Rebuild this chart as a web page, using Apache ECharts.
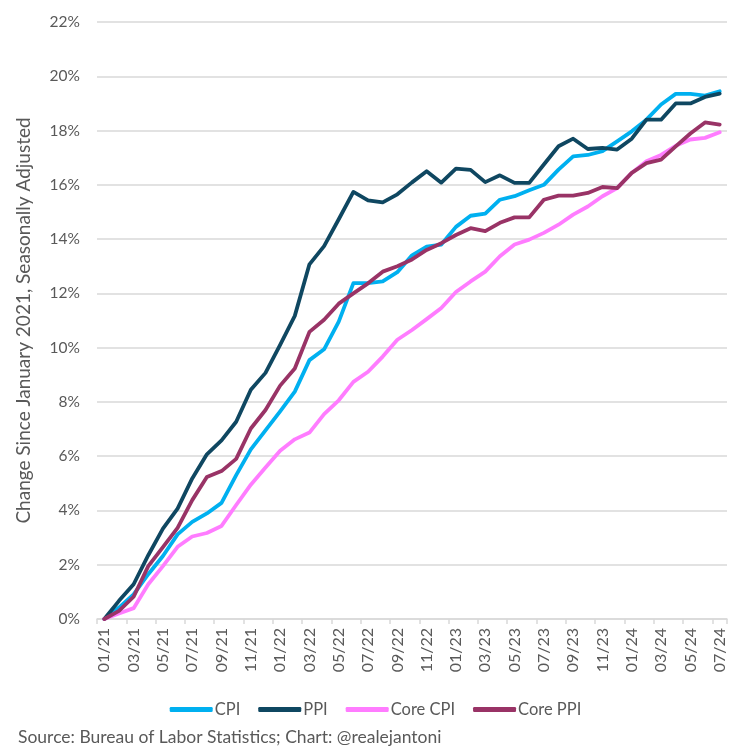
<!DOCTYPE html>
<html lang="en">
<head>
    <meta charset="UTF-8">
    <title>CPI vs PPI since January 2021</title>
    <script type="text/javascript" src="https://cdn.jsdelivr.net/npm/echarts@6/dist/echarts.min.js"></script>
    <style>
        html, body {
            margin: 0;
            padding: 0;
            background: #fff;
        }

        #container {
            width: 751px;
            height: 751px;
        }
    </style>
</head>
<body>
<div id="container"></div>
</body>
<script>
    // months 01/21 .. 07/24
    const months = [
        '01/21', '02/21', '03/21', '04/21', '05/21', '06/21', '07/21', '08/21', '09/21', '10/21', '11/21', '12/21',
        '01/22', '02/22', '03/22', '04/22', '05/22', '06/22', '07/22', '08/22', '09/22', '10/22', '11/22', '12/22',
        '01/23', '02/23', '03/23', '04/23', '05/23', '06/23', '07/23', '08/23', '09/23', '10/23', '11/23', '12/23',
        '01/24', '02/24', '03/24', '04/24', '05/24', '06/24', '07/24'
    ];

    // cumulative change since Jan 2021, in %
    const cpi = [
        0, 0.42, 0.91, 1.65, 2.32, 3.12, 3.58, 3.89, 4.28, 5.3, 6.25, 6.95,
        7.65, 8.38, 9.54, 9.94, 10.96, 12.38, 12.38, 12.44, 12.78, 13.4, 13.72, 13.8,
        14.45, 14.86, 14.94, 15.45, 15.58, 15.8, 16.0, 16.56, 17.05, 17.1, 17.24, 17.6,
        17.97, 18.4, 18.96, 19.35, 19.35, 19.29, 19.45
    ];
    const ppi = [
        0, 0.67, 1.28, 2.35, 3.33, 4.07, 5.18, 6.07, 6.58, 7.27, 8.45, 9.07,
        10.1, 11.17, 13.07, 13.74, 14.73, 15.74, 15.43, 15.35, 15.65, 16.09, 16.5, 16.08,
        16.6, 16.55, 16.1, 16.35, 16.07, 16.07, 16.75, 17.42, 17.7, 17.32, 17.36, 17.3,
        17.7, 18.4, 18.4, 19.0, 19.0, 19.24, 19.36
    ];
    const coreCpi = [
        0, 0.2, 0.4, 1.28, 1.95, 2.66, 3.04, 3.17, 3.43, 4.2, 4.95, 5.58,
        6.2, 6.62, 6.87, 7.55, 8.06, 8.74, 9.11, 9.67, 10.29, 10.65, 11.05, 11.46,
        12.05, 12.44, 12.8, 13.37, 13.8, 13.98, 14.23, 14.53, 14.9, 15.2, 15.58, 15.88,
        16.44, 16.87, 17.1, 17.44, 17.67, 17.73, 17.94
    ];
    const corePpi = [
        0, 0.3, 0.82, 1.95, 2.65, 3.36, 4.38, 5.23, 5.45, 5.9, 7.02, 7.7,
        8.6, 9.23, 10.58, 11.03, 11.62, 12.0, 12.37, 12.8, 13.0, 13.25, 13.6, 13.85,
        14.15, 14.4, 14.29, 14.6, 14.8, 14.8, 15.45, 15.6, 15.6, 15.7, 15.92, 15.88,
        16.44, 16.8, 16.93, 17.42, 17.89, 18.3, 18.22
    ];

    const font = 'Lato, "Open Sans", sans-serif';
    const grey = '#595959';
    const gridGrey = '#d9d9d9';

    const myChart = echarts.init(document.getElementById('container'));

    function line(name, data, color) {
        return {
            name: name,
            type: 'line',
            data: data,
            smooth: false,
            showSymbol: false,
            lineStyle: {width: 3.8, color: color, cap: 'round', join: 'round'},
            itemStyle: {color: color}
        };
    }

    let option = {
        backgroundColor: '#fff',
        animation: false,
        textStyle: {fontFamily: font, color: grey},
        grid: {left: 97, right: 24, top: 22, bottom: 132},
        legend: {
            bottom: 28,
            left: 'center',
            icon: 'roundRect',
            itemWidth: 43,
            itemHeight: 5,
            itemGap: 18,
            textStyle: {fontFamily: font, fontSize: 16.5, color: grey, padding: [0, 0, 0, -3]},
            data: ['CPI', 'PPI', 'Core CPI', 'Core PPI']
        },
        graphic: [{
            type: 'text',
            left: 18,
            bottom: 5,
            style: {
                text: 'Source: Bureau of Labor Statistics; Chart: @realejantoni',
                fontFamily: font,
                fontSize: 17.5,
                fill: grey
            }
        }],
        xAxis: {
            type: 'category',
            data: months,
            boundaryGap: true,
            axisLine: {lineStyle: {color: gridGrey, width: 1.5}},
            axisTick: {show: true, interval: 1, length: 5, lineStyle: {color: gridGrey, width: 1.5}},
            axisLabel: {interval: 1, rotate: 90, margin: 9, fontSize: 16, color: grey, fontFamily: font}
        },
        yAxis: {
            type: 'value',
            min: 0,
            max: 22,
            interval: 2,
            name: 'Change Since January 2021, Seasonally Adjusted',
            nameLocation: 'middle',
            nameGap: 64,
            nameTextStyle: {fontSize: 19, color: grey, fontFamily: font},
            axisLine: {show: false},
            axisTick: {show: false},
            axisLabel: {formatter: '{value}%', fontSize: 15.5, color: grey, margin: 17, fontFamily: font},
            splitLine: {lineStyle: {color: gridGrey, width: 1.5}}
        },
        series: [
            line('CPI', cpi, '#00b0f0'),
            line('PPI', ppi, '#0f4761'),
            line('Core CPI', coreCpi, '#ff7cff'),
            line('Core PPI', corePpi, '#993366')
        ]
    };
    myChart.setOption(option);

    window.onresize = myChart.resize;
</script>
</html>
